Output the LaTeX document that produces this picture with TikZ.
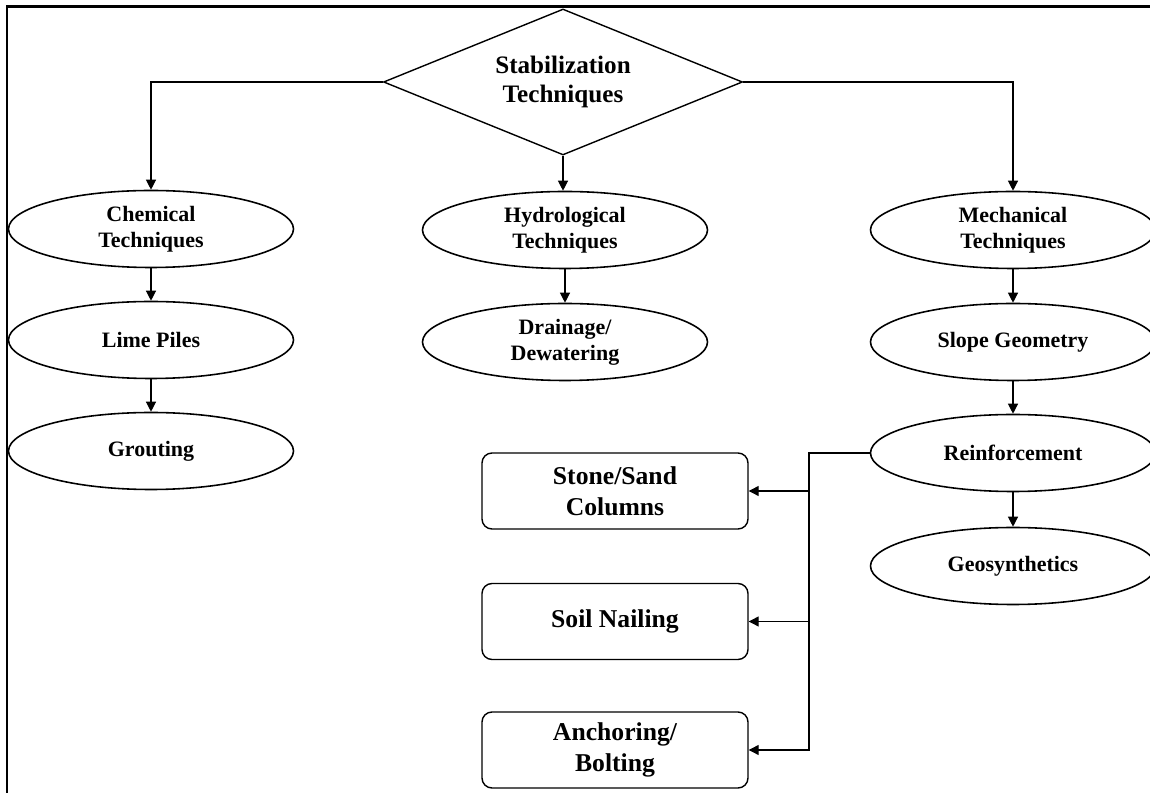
\documentclass[tikz,border=0pt]{standalone}
\usepackage{fontspec}
\setmainfont{Liberation Serif}
\usetikzlibrary{shapes.geometric,arrows.meta}

\tikzset{
	oval/.style = {ellipse, draw, line width=0.9pt, minimum width=5.7cm, minimum height=1.54cm, inner sep=0pt, align=center, font=\bfseries\fontsize{12.5}{15}\selectfont},
	box/.style = {rectangle, rounded corners=0.2cm, draw, line width=0.8pt, minimum width=5.32cm, minimum height=1.52cm, inner sep=0pt, align=center, font=\bfseries\fontsize{14.6}{17.5}\selectfont},
	dia/.style = {diamond, draw, line width=0.8pt, aspect=2.46, minimum width=7.18cm, minimum height=2.92cm, inner sep=0pt, align=center, font=\bfseries\fontsize{14.3}{17}\selectfont},
	arr/.style = {-{Triangle[length=2mm,width=2mm]}, line width=0.7pt}
}

\begin{document}
\begin{tikzpicture}
	\useasboundingbox (0,0) rectangle (23,-15.86);
	\draw[line width=1.6pt] (0.14,-15.86) -- (0.14,-0.13) -- (23,-0.13);

	\node (Stab) at (11.26, -1.64)	[dia]	{Stabilization\\Techniques};

	\node (Chem) at ( 3.02, -4.58)	[oval]	{Chemical\\Techniques};
	\node (Lime) at ( 3.02, -6.80)	[oval]	{Lime Piles};
	\node (Grout) at ( 3.02, -9.02)	[oval]	{Grouting};

	\node (Hydro) at (11.30, -4.60)	[oval]	{Hydrological\\Techniques};
	\node (Drain) at (11.30, -6.84)	[oval]	{Drainage/\\Dewatering};

	\node (Mech) at (20.26, -4.60)	[oval]	{Mechanical\\Techniques};
	\node (Slope) at (20.26, -6.84)	[oval]	{Slope Geometry};
	\node (Reinf) at (20.26, -9.06)	[oval]	{Reinforcement};
	\node (Geo) at (20.26, -11.32)	[oval]	{Geosynthetics};

	\node (Stone) at (12.30, -9.82)	[box]	{Stone/Sand\\Columns};
	\node (Soil) at (12.30, -12.43)	[box]	{Soil Nailing};
	\node (Anchor) at (12.30, -15.00)	[box]	{Anchoring/\\Bolting};

	\coordinate (Bus) at (16.18, -9.06);

	\draw[arr] (Stab.west) -| (Chem.north);
	\draw[arr] (Stab.south) -- (Stab.south |- Hydro.north);
	\draw[arr] (Stab.east) -| (Mech.north);
	\draw[arr] (Chem) -- (Lime);
	\draw[arr] (Lime) -- (Grout);
	\draw[arr] (Hydro) -- (Drain);
	\draw[arr] (Mech) -- (Slope);
	\draw[arr] (Slope) -- (Reinf);
	\draw[arr] (Reinf) -- (Geo);
	\draw[arr] (Reinf.west) -- (Bus) |- (Anchor.east);
	\draw[arr] (Bus |- Stone.east) -- (Stone.east);
	\draw[arr] (Bus |- Soil.east) -- (Soil.east);
\end{tikzpicture}
\end{document}
